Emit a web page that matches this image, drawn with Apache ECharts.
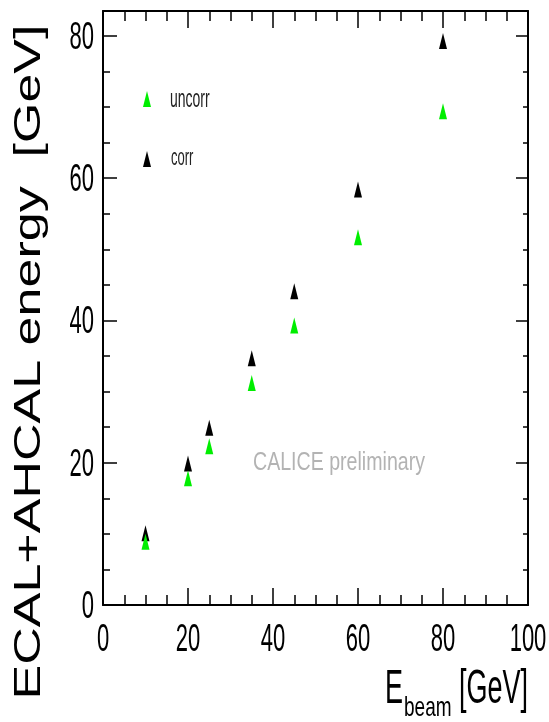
<!DOCTYPE html>
<html><head><meta charset="utf-8">
<script src="https://cdn.jsdelivr.net/npm/echarts@6/dist/echarts.min.js"></script>
<style>html,body{margin:0;padding:0;background:#fff}#c{width:549px;height:722px}</style>
</head><body><div id="c"></div>
<script>
const beamEnergy = [10, 20, 25, 35, 45, 60, 80];
const uncorrEnergy = [8.9, 17.8, 22.3, 31.2, 39.3, 51.7, 69.4];
const corrEnergy = [10.1, 19.9, 24.9, 34.7, 44.1, 58.4, 79.3];
const seriesNames = ['uncorr', 'corr'];
const xTickLabels = [0, 20, 40, 60, 80, 100];
const yTickLabels = [0, 20, 40, 60, 80];
const xTitleParts = ['E', 'beam', '[GeV]'];
const yTitle = 'ECAL+AHCAL energy  [GeV]';
const watermark = 'CALICE preliminary';

const SANS = "'Liberation Sans', Arial, sans-serif";
const STRETCH = 1.78;

function textWidth(str, font) {
  const ctx = document.createElement('canvas').getContext('2d');
  ctx.font = font; return ctx.measureText(str).width;
}

const chart = echarts.init(document.getElementById('c'), null, {renderer: 'canvas'});

function xAxisDef(position, majorLen, minorLen) {
  return {
    type: 'value', position: position, min: 0, max: 100, interval: 20,
    axisLine: {show: true, onZero: false, lineStyle: {color: '#000', width: 2}},
    axisTick: {show: true, inside: true, length: majorLen, lineStyle: {color: '#000', width: 1.5}},
    minorTick: {show: true, splitNumber: 4, length: minorLen, lineStyle: {color: '#000', width: 1.5}},
    axisLabel: {show: false},
    splitLine: {show: false}, minorSplitLine: {show: false}
  };
}
function yAxisDef(position, interval, showLine, len) {
  return {
    type: 'value', position: position, min: 0, max: 83.5, interval: interval,
    axisLine: {show: showLine, onZero: false, lineStyle: {color: '#000', width: 2}},
    axisTick: {show: true, inside: true, length: len, lineStyle: {color: '#000', width: 1.5}},
    axisLabel: {show: false},
    splitLine: {show: false}
  };
}

const yTitleFont = '36px ' + SANS;
const yTitleScale = 675 / textWidth(yTitle, yTitleFont);
const wmFont = '20px ' + SANS;
const wmScaleX = 172 / textWidth(watermark, wmFont);

const option = {
  backgroundColor: '#fff',
  animation: false,
  grid: {left: 103, right: 21, top: 11, bottom: 117, show: false},
  xAxis: [
    xAxisDef('bottom', 17, 10),
    xAxisDef('top', 17, 10)
  ],
  yAxis: [
    yAxisDef('left', 20, true, 14),
    yAxisDef('left', 5, false, 7),
    yAxisDef('right', 20, true, 12),
    yAxisDef('right', 5, false, 5)
  ],
  legend: {
    data: seriesNames, orient: 'vertical', left: 143, top: 91, padding: 0,
    itemWidth: 8, itemHeight: 16, itemGap: 44, icon: 'triangle',
    formatter: function () { return ''; },
    textStyle: {fontSize: 12, lineHeight: 16}
  },
  series: [
    {
      name: seriesNames[1], type: 'scatter', xAxisIndex: 0, yAxisIndex: 0, z: 2,
      symbol: 'triangle', symbolSize: [8, 16],
      itemStyle: {color: '#000', opacity: 1},
      data: beamEnergy.map((x, i) => [x, corrEnergy[i]])
    },
    {
      name: seriesNames[0], type: 'scatter', xAxisIndex: 0, yAxisIndex: 0, z: 3,
      symbol: 'triangle', symbolSize: [8, 16],
      itemStyle: {color: '#00ee00', opacity: 1},
      data: beamEnergy.map((x, i) => [x, uncorrEnergy[i]])
    }
  ]
};
chart.setOption(option);

// stretched texts (the reference is drawn with vertically stretched glyphs)
const graphics = [
  {id: 'ytitle', type: 'text', x: 30, y: 362, rotation: Math.PI / 2, scaleX: yTitleScale,
   style: {text: yTitle, font: yTitleFont, fill: '#000', align: 'center', verticalAlign: 'middle'}},
  {id: 'xt0', type: 'text', x: 385, y: 690, scaleY: 1.8,
   style: {text: xTitleParts[0], font: '27px ' + SANS, fill: '#000', align: 'left', verticalAlign: 'middle'}},
  {id: 'xt1', type: 'text', x: 404, y: 708, scaleY: 1.5,
   style: {text: xTitleParts[1], font: '19px ' + SANS, fill: '#000', align: 'left', verticalAlign: 'middle'}},
  {id: 'xt2', type: 'text', x: 459, y: 690, scaleY: 1.8,
   style: {text: xTitleParts[2], font: '27px ' + SANS, fill: '#000', align: 'left', verticalAlign: 'middle'}},
  {id: 'wm', type: 'text', x: 253, y: 463, scaleX: wmScaleX, scaleY: 1.28,
   style: {text: watermark, font: wmFont, fill: '#b3b3b3', align: 'left', verticalAlign: 'middle'}},
  {id: 'lg0', type: 'text', x: 170, y: 100, scaleY: STRETCH,
   style: {text: seriesNames[0], font: '14px ' + SANS, fill: '#222', align: 'left', verticalAlign: 'middle'}},
  {id: 'lg1', type: 'text', x: 171, y: 159, scaleY: STRETCH,
   style: {text: seriesNames[1], font: '13px ' + SANS, fill: '#222', align: 'left', verticalAlign: 'middle'}}
];
const axisY = chart.convertToPixel({yAxisIndex: 0}, 0);
const axisX = chart.convertToPixel({xAxisIndex: 0}, 0);
xTickLabels.forEach(function (v, i) {
  graphics.push({id: 'xl' + i, type: 'text', x: chart.convertToPixel({xAxisIndex: 0}, v), y: axisY + 35,
    scaleY: STRETCH,
    style: {text: String(v), font: '22px ' + SANS, fill: '#000', align: 'center', verticalAlign: 'middle'}});
});
yTickLabels.forEach(function (v, i) {
  graphics.push({id: 'yl' + i, type: 'text', x: axisX - 9, y: chart.convertToPixel({yAxisIndex: 0}, v) + 2,
    scaleY: STRETCH,
    style: {text: String(v), font: '22px ' + SANS, fill: '#000', align: 'right', verticalAlign: 'middle'}});
});
chart.setOption({graphic: graphics});
</script>
</body></html>
